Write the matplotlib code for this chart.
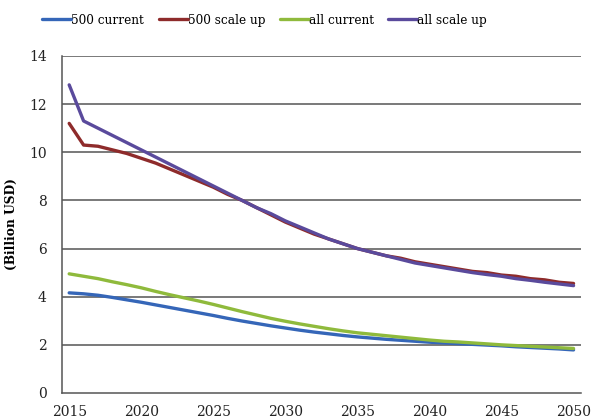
import numpy as np
import matplotlib.pyplot as plt

# =========================================
# Data
# =========================================
years = list(range(2015, 2051))

current_500 = [4.16, 4.12, 4.06, 3.97, 3.87, 3.77, 3.66, 3.55, 3.44, 3.33,
               3.22, 3.10, 2.99, 2.89, 2.79, 2.70, 2.61, 2.53, 2.46, 2.39,
               2.33, 2.28, 2.23, 2.19, 2.15, 2.11, 2.08, 2.05, 2.02, 1.99,
               1.96, 1.92, 1.89, 1.86, 1.83, 1.79]

scale_up_500 = [11.2, 10.3, 10.25, 10.1, 9.95, 9.75, 9.55, 9.3, 9.05, 8.8,
                8.55, 8.25, 8.0, 7.7, 7.4, 7.1, 6.85, 6.6, 6.4, 6.2,
                6.0, 5.85, 5.7, 5.6, 5.45, 5.35, 5.25, 5.15, 5.05, 5.0,
                4.9, 4.85, 4.75, 4.7, 4.6, 4.55]

current_all = [4.95, 4.85, 4.75, 4.62, 4.5, 4.37, 4.22, 4.08, 3.95, 3.82,
               3.68, 3.53, 3.38, 3.24, 3.1, 2.98, 2.87, 2.77, 2.67, 2.58,
               2.5, 2.44, 2.38, 2.32, 2.26, 2.2, 2.15, 2.12, 2.08, 2.04,
               2.0, 1.97, 1.94, 1.91, 1.88, 1.85]

scale_up_all = [12.8, 11.3, 11.0, 10.7, 10.4, 10.1, 9.8, 9.5, 9.2, 8.9,
                8.6, 8.3, 8.0, 7.7, 7.45, 7.15, 6.9, 6.65, 6.4, 6.2,
                6.0, 5.85, 5.7, 5.55, 5.4, 5.3, 5.2, 5.1, 5.0, 4.92,
                4.85, 4.75, 4.68, 4.6, 4.53, 4.46]

labels = ["500 current", "500 scale up", "all current", "all scale up"]
colors = ["#3566b8", "#8e2b2b", "#8fba3c", "#5a4a9c"]

x_ticks = list(range(2015, 2051, 5))
y_ticks = list(range(0, 15, 2))

# =========================================
# Plot
# =========================================
plt.rcParams['font.family'] = ['DejaVu Serif']

fig = plt.figure(figsize=(5.92, 4.2), dpi=100)
ax = fig.add_axes([0.1047, 0.0643, 0.8763, 0.8024])

for ys in y_ticks[1:]:
    ax.axhline(ys, color="#555555", linewidth=1.1, zorder=1)

series = [current_500, scale_up_500, current_all, scale_up_all]
for vals, lab, col in zip(series, labels, colors):
    ax.plot(years, vals, color=col, linewidth=2.4, label=lab,
            solid_capstyle="round", zorder=3)

ax.set_xlim(2014.5, 2050.5)
ax.set_ylim(0, 14)
ax.set_xticks(x_ticks)
ax.set_yticks(y_ticks)
ax.tick_params(axis="both", length=0, labelsize=10, colors="#222222")
ax.tick_params(axis="x", pad=9)
ax.tick_params(axis="y", pad=11)

for side in ["top", "right"]:
    ax.spines[side].set_visible(False)
for side in ["left", "bottom"]:
    ax.spines[side].set_color("#555555")
    ax.spines[side].set_linewidth(1.1)

ax.set_ylabel("(Billion USD)", fontsize=8.8, fontweight="bold", labelpad=8)
ax.yaxis.set_label_coords(-0.085, 0.5)

fig.legend(loc="center", bbox_to_anchor=(0.447, 0.952), ncol=4,
           frameon=False, fontsize=8.7, handlelength=2.4, handletextpad=0.0,
           columnspacing=1.2)

fig.savefig("out.png", dpi=100)
plt.close()
